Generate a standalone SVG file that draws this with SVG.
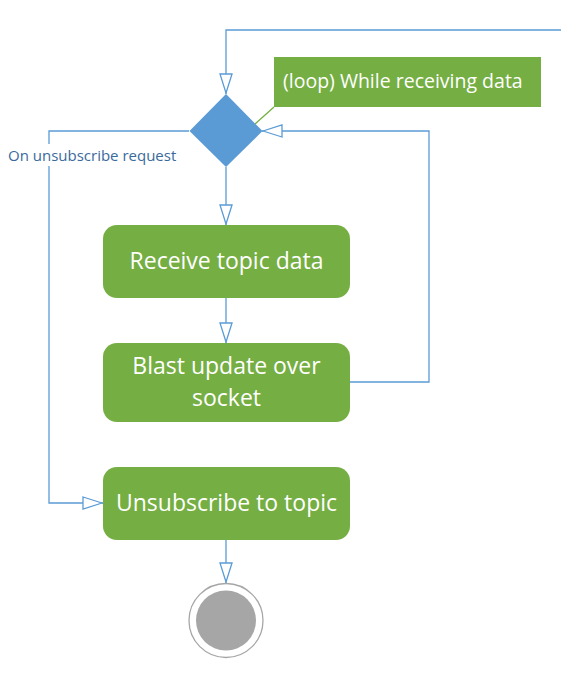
<svg xmlns="http://www.w3.org/2000/svg" width="561" height="673" viewBox="0 0 561 673">
<style>
.act{fill:#75ae42}
.t{font-family:"Open Sans","Noto Sans",sans-serif;fill:#fff;text-anchor:middle;font-size:23px}
.c{fill:none;stroke:#5b9bd5;stroke-width:1.3}
.lbl{font-family:"Open Sans","Noto Sans",sans-serif;fill:#3a6a9c;font-size:15px}
</style>
<defs>
<marker id="ah" viewBox="0 0 21 14" refX="21" refY="7" markerWidth="21" markerHeight="14" markerUnits="userSpaceOnUse" orient="auto">
<path d="M1,1 L20,7 L1,13 Z" fill="#fff" stroke="#5b9bd5" stroke-width="1.3"/>
</marker>
</defs>
<rect width="561" height="673" fill="#fff"/>
<g id="connectors">
<path class="c" d="M561,30 H226 V94" marker-end="url(#ah)"/>
<path class="c" d="M226,167 V225" marker-end="url(#ah)"/>
<path class="c" d="M226,298 V343" marker-end="url(#ah)"/>
<path class="c" d="M350,382 H429 V131 H262" marker-end="url(#ah)"/>
<path class="c" d="M189,131 H49 V503 H103" marker-end="url(#ah)"/>
<path class="c" d="M226,540 V583" marker-end="url(#ah)"/>
<line x1="274" y1="107" x2="255" y2="124" stroke="#75ae42" stroke-width="1.3"/>
<rect x="6" y="144" width="174" height="22" fill="#fff"/>
<text class="lbl" x="8" y="161">On unsubscribe request</text>
</g>
<g id="decision">
<path d="M226,94 L262.5,131 L226,167 L189.5,131 Z" fill="#5b9bd5"/>
</g>
<g id="note">
<rect x="274" y="57" width="267" height="50" fill="#75ae42"/>
<text x="283" y="88" font-family="Open Sans,Noto Sans,sans-serif" font-size="19.5" fill="#fff">(loop) While receiving data</text>
</g>
<g id="receive">
<rect class="act" x="103" y="225" width="247" height="73" rx="14"/>
<text class="t" x="226.5" y="269">Receive topic data</text>
</g>
<g id="blast">
<rect class="act" x="103" y="343" width="247" height="79" rx="14"/>
<text class="t" x="226.5" y="374">Blast update over</text>
<text class="t" x="226.5" y="406">socket</text>
</g>
<g id="unsubscribe">
<rect class="act" x="103" y="467" width="247" height="73" rx="14"/>
<text class="t" x="226.5" y="511">Unsubscribe to topic</text>
</g>
<g id="end">
<circle cx="226" cy="620.5" r="37" fill="#fff" stroke="#a6a6a6" stroke-width="1.3"/>
<circle cx="226" cy="620.5" r="30" fill="#a6a6a6"/>
</g>
</svg>
